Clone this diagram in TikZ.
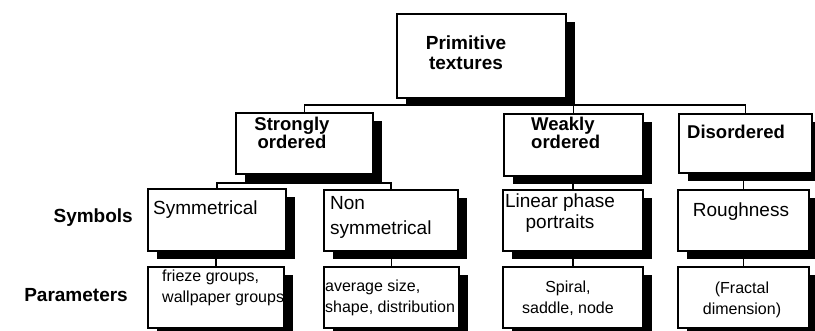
\documentclass[tikz,border=0pt]{standalone}
\usepackage{fontspec}
\setmainfont{Liberation Sans}
\usetikzlibrary{shadows}
\begin{document}
\begin{tikzpicture}[x=1pt,y=-1pt,
  box/.style={draw=black, line width=1.6pt, fill=white, inner sep=0pt, anchor=north west,
    general shadow={fill=black, shadow xshift=9pt, shadow yshift=-8pt}},
  conn/.style={draw=black, line width=1.6pt},
  ttl/.style={inner sep=0pt, font=\bfseries\fontsize{18.5}{18}\selectfont},
  sym/.style={inner sep=0pt, font=\fontsize{19}{21}\selectfont},
  par/.style={inner sep=0pt, font=\fontsize{16}{20.5}\selectfont},
  lab/.style={inner sep=0pt, anchor=east, font=\bfseries\fontsize{19}{20}\selectfont}]
\useasboundingbox (0,0) rectangle (815,330);
% boxes
\node[box, minimum width=169pt, minimum height=84pt] (top) at (396,13) {};
\node[box, minimum width=137pt, minimum height=61pt] (strong) at (235,112) {};
\node[box, minimum width=139pt, minimum height=62pt] (weak) at (503,113) {};
\node[box, minimum width=133pt, minimum height=59pt] (dis) at (678,113) {};
\node[box, minimum width=138pt, minimum height=62pt] (symb) at (147,188) {};
\node[box, minimum width=134pt, minimum height=61pt] (non) at (323,189) {};
\node[box, minimum width=140pt, minimum height=61pt] (lin) at (502,189) {};
\node[box, minimum width=131pt, minimum height=61pt] (rough) at (677,189) {};
\node[box, minimum width=136pt, minimum height=61pt] (psym) at (147,266) {};
\node[box, minimum width=135pt, minimum height=61pt] (pnon) at (323,266) {};
\node[box, minimum width=140pt, minimum height=61pt] (plin) at (502,266) {};
\node[box, minimum width=131pt, minimum height=61pt] (prough) at (677,266) {};
% connectors
\coordinate (bus) at (0,105);
\coordinate (sbus) at (0,183);
\draw[conn] (top.south) -- (top.south |- bus);
\draw[conn] (strong.north) -- (strong.north |- bus) -| (dis.north);
\draw[conn] (weak.north) -- (weak.north |- bus);
\draw[conn] (strong.south) -- (strong.south |- sbus);
\draw[conn] (symb.north) -- (symb.north |- sbus) -| (non.north);
\draw[conn] (lin.north) -- (lin.north |- weak.south);
\draw[conn] (rough.north) -- (rough.north |- dis.south);
\draw[conn] (psym.north) -- (psym.north |- symb.south);
\draw[conn] (pnon.north) -- (pnon.north |- non.south);
\draw[conn] (plin.north) -- (plin.north |- lin.south);
\draw[conn] (prough.north) -- (prough.north |- rough.south);
% texts
\node[ttl, align=center, font=\bfseries\fontsize{19}{20}\selectfont] (ttop) at (466,53) {Primitive\\textures};
\node[ttl, align=center] (tstrong) at (292,133) {Strongly\\ordered};
\node[ttl, align=left, anchor=west] (tweak) at (531,133) {Weakly\\ordered};
\node[ttl, anchor=west] (tdis) at (687,132) {Disordered};
\node[sym, anchor=west] (tsymb) at (153,210) {Symmetrical};
\node[sym, align=left, anchor=west, font=\fontsize{19}{25}\selectfont] (tnon) at (330,217) {Non\\symmetrical};
\node[sym, align=center] (tlin) at (560,213) {Linear phase\\portraits};
\node[sym] (trough) at (741,212) {Roughness};
\node[par, align=left, anchor=west] (tpsym) at (162,288) {frieze groups,\\wallpaper groups};
\node[par, align=left, anchor=west] (tpnon) at (325,298) {average size,\\shape, distribution};
\node[par, align=center] (tplin) at (568,298) {Spiral,\\saddle, node};
\node[par, align=center] (tprough) at (742,300) {(Fractal\\dimension)};
\node[lab] (lsym) at (133,218) {Symbols};
\node[lab] (lpar) at (128,295) {Parameters};
\end{tikzpicture}
\end{document}
